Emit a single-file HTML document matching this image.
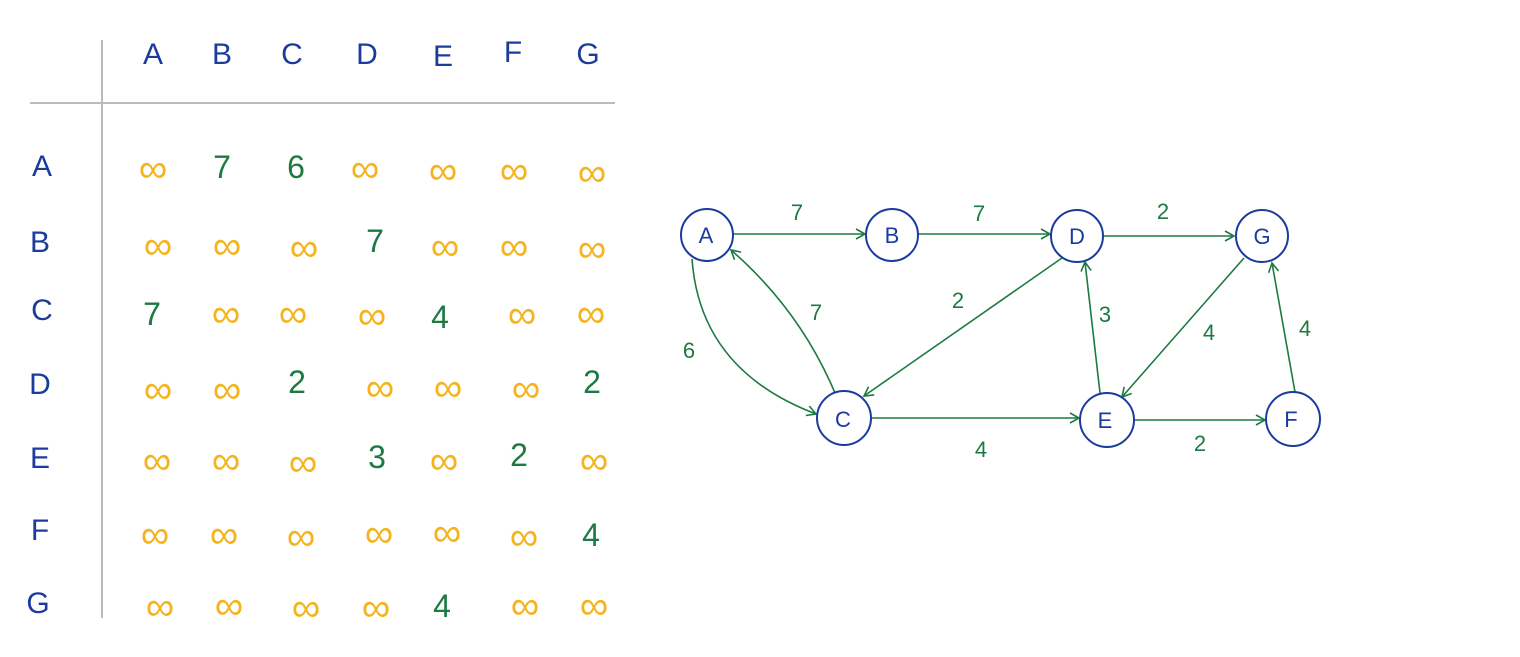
<!DOCTYPE html>
<html><head><meta charset="utf-8"><style>
body{margin:0;background:#fff}
svg text{font-family:"Liberation Sans",sans-serif}
.b{fill:#1b3b9e;font-size:30px}
.g{fill:#1c7a42;font-size:32px}
.o{fill:#f5b31c;font-size:40px;transform:translateY(10px)}
</style></head><body>
<svg width="1520" height="652" viewBox="0 0 1520 652" xmlns="http://www.w3.org/2000/svg">
<defs><marker id="ar" markerWidth="12" markerHeight="12" refX="10" refY="6" orient="auto" markerUnits="userSpaceOnUse"><path d="M1,1 L10,6 L1,11" fill="none" stroke="#1c7a42" stroke-width="1.6"/></marker></defs>
<line x1="102" y1="40" x2="102" y2="618" stroke="#bbb" stroke-width="2"/>
<line x1="30" y1="103" x2="615" y2="103" stroke="#bbb" stroke-width="2"/>
<g class="b" text-anchor="middle">
<text x="153" y="64">A</text><text x="222" y="64">B</text><text x="292" y="64">C</text><text x="367" y="64">D</text><text x="443" y="66">E</text><text x="513" y="62">F</text><text x="588" y="64">G</text>
<text x="42" y="176">A</text><text x="40" y="252">B</text><text x="42" y="320">C</text><text x="40" y="394">D</text><text x="40" y="468">E</text><text x="40" y="540">F</text><text x="38" y="613">G</text>
</g>
<g text-anchor="middle">
<text class="o" x="153" y="172">∞</text><text class="g" x="222" y="178">7</text><text class="g" x="296" y="178">6</text><text class="o" x="365" y="172">∞</text><text class="o" x="443" y="174">∞</text><text class="o" x="514" y="174">∞</text><text class="o" x="592" y="176">∞</text>
<text class="o" x="158" y="249">∞</text><text class="o" x="227" y="249">∞</text><text class="o" x="304" y="251">∞</text><text class="g" x="375" y="252">7</text><text class="o" x="445" y="250">∞</text><text class="o" x="514" y="250">∞</text><text class="o" x="592" y="252">∞</text>
<text class="g" x="152" y="325">7</text><text class="o" x="226" y="317">∞</text><text class="o" x="293" y="317">∞</text><text class="o" x="372" y="319">∞</text><text class="g" x="440" y="328">4</text><text class="o" x="522" y="318">∞</text><text class="o" x="591" y="317">∞</text>
<text class="o" x="158" y="393">∞</text><text class="o" x="227" y="393">∞</text><text class="g" x="297" y="393">2</text><text class="o" x="380" y="391">∞</text><text class="o" x="448" y="391">∞</text><text class="o" x="526" y="392">∞</text><text class="g" x="592" y="393">2</text>
<text class="o" x="157" y="464">∞</text><text class="o" x="226" y="464">∞</text><text class="o" x="303" y="466">∞</text><text class="g" x="377" y="468">3</text><text class="o" x="444" y="464">∞</text><text class="g" x="519" y="466">2</text><text class="o" x="594" y="464">∞</text>
<text class="o" x="155" y="538">∞</text><text class="o" x="224" y="538">∞</text><text class="o" x="301" y="540">∞</text><text class="o" x="379" y="537">∞</text><text class="o" x="447" y="536">∞</text><text class="o" x="524" y="540">∞</text><text class="g" x="591" y="546">4</text>
<text class="o" x="160" y="610">∞</text><text class="o" x="229" y="609">∞</text><text class="o" x="306" y="611">∞</text><text class="o" x="376" y="611">∞</text><text class="g" x="442" y="617">4</text><text class="o" x="525" y="609">∞</text><text class="o" x="594" y="609">∞</text>
</g>
<g fill="none" stroke="#1c7a42" stroke-width="1.6" marker-end="url(#ar)">
<line x1="733" y1="234" x2="865" y2="234"/>
<line x1="918" y1="234" x2="1050" y2="234"/>
<line x1="1104" y1="236" x2="1234" y2="236"/>
<path d="M692,259 Q700,370 816,414"/>
<path d="M835,393 Q800,310 731,250"/>
<line x1="1062" y1="258" x2="864" y2="396"/>
<line x1="1100" y1="393" x2="1085" y2="262"/>
<line x1="1244" y1="258" x2="1122" y2="397"/>
<line x1="1295" y1="392" x2="1272" y2="263"/>
<line x1="872" y1="418" x2="1079" y2="418"/>
<line x1="1135" y1="420" x2="1265" y2="420"/>
</g>
<g fill="#fff" stroke="#1b3b9e" stroke-width="2">
<circle cx="707" cy="235" r="26"/><circle cx="892" cy="235" r="26"/><circle cx="1077" cy="236" r="26"/><circle cx="1262" cy="236" r="26"/>
<circle cx="844" cy="418" r="27"/><circle cx="1107" cy="420" r="27"/><circle cx="1293" cy="419" r="27"/>
</g>
<g class="b" text-anchor="middle" style="font-size:22px">
<text x="706" y="243">A</text><text x="892" y="243">B</text><text x="1077" y="244">D</text><text x="1262" y="244">G</text>
<text x="843" y="427">C</text><text x="1105" y="428">E</text><text x="1291" y="427">F</text>
</g>
<g class="g" text-anchor="middle" style="font-size:22px">
<text x="797" y="220">7</text><text x="979" y="221">7</text><text x="1163" y="219">2</text>
<text x="689" y="358">6</text><text x="816" y="320">7</text><text x="958" y="308">2</text>
<text x="1105" y="322">3</text><text x="1209" y="340">4</text><text x="1305" y="336">4</text>
<text x="981" y="457">4</text><text x="1200" y="451">2</text>
</g>
</svg>
</body></html>
